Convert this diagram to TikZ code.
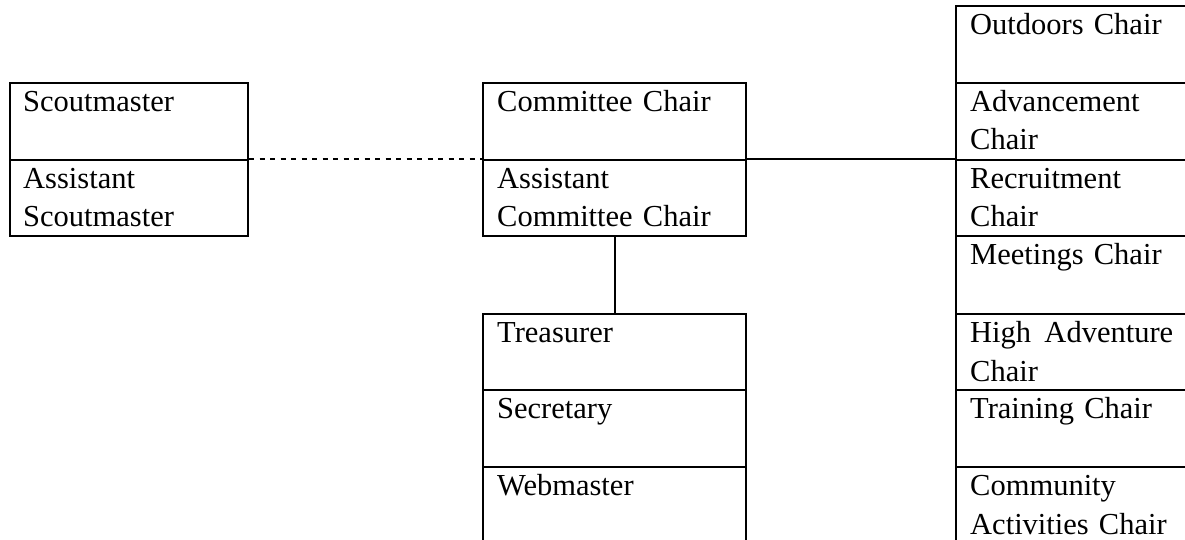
\documentclass[tikz,border=0pt]{standalone}
\usepackage{fontspec}
\setmainfont{Liberation Serif}
\begin{document}
\begin{tikzpicture}[x=1pt,y=-1pt,
  cell/.style={draw, line width=2.2pt, rectangle, anchor=north west, inner sep=0pt},
  txt/.style={anchor=base west, inner sep=0pt, align=left, text width=228pt,
    font=\fontsize{30.5}{38.5}\selectfont},
  conn/.style={line width=2.2pt},
  dotconn/.style={line width=1.8pt, dash pattern=on 5pt off 5.5pt}]
\useasboundingbox (0,0) rectangle (1185,540);
\clip (0,0) rectangle (1185,540);
% left column
\node[cell, minimum width=238pt, minimum height=77pt] (sm) at (9,82) {};
\node[cell, minimum width=238pt, minimum height=76pt] (asm) at (9,159) {};
% middle column
\node[cell, minimum width=263pt, minimum height=77pt] (cc) at (482,82) {};
\node[cell, minimum width=263pt, minimum height=76pt] (acc) at (482,159) {};
\node[cell, minimum width=263pt, minimum height=76pt] (tre) at (482,313) {};
\node[cell, minimum width=263pt, minimum height=77pt] (sec) at (482,389) {};
\node[cell, minimum width=263pt, minimum height=80pt] (web) at (482,466) {};
% right column
\node[cell, minimum width=240pt, minimum height=77pt] (out) at (955,5) {};
\node[cell, minimum width=240pt, minimum height=77pt] (adv) at (955,82) {};
\node[cell, minimum width=240pt, minimum height=76pt] (rec) at (955,159) {};
\node[cell, minimum width=240pt, minimum height=78pt] (mee) at (955,235) {};
\node[cell, minimum width=240pt, minimum height=76pt] (hig) at (955,313) {};
\node[cell, minimum width=240pt, minimum height=77pt] (tra) at (955,389) {};
\node[cell, minimum width=240pt, minimum height=80pt] (com) at (955,466) {};
% texts
\node[txt] (sm-t) at ([xshift=14pt,yshift=-29.5pt]sm.north west) {Scoutmaster};
\node[txt] (asm-t) at ([xshift=14pt,yshift=-29.5pt]asm.north west) {Assistant\\Scoutmaster};
\node[txt] (cc-t) at ([xshift=15pt,yshift=-29.5pt]cc.north west) {Committee Chair};
\node[txt] (acc-t) at ([xshift=15pt,yshift=-29.5pt]acc.north west) {Assistant\\Committee Chair};
\node[txt] (tre-t) at ([xshift=15pt,yshift=-29.5pt]tre.north west) {Treasurer};
\node[txt] (sec-t) at ([xshift=15pt,yshift=-29.5pt]sec.north west) {Secretary};
\node[txt] (web-t) at ([xshift=15pt,yshift=-29.5pt]web.north west) {Webmaster};
\node[txt] (out-t) at ([xshift=15pt,yshift=-29.5pt]out.north west) {Outdoors Chair};
\node[txt] (adv-t) at ([xshift=15pt,yshift=-29.5pt]adv.north west) {Advancement\\Chair};
\node[txt] (rec-t) at ([xshift=15pt,yshift=-29.5pt]rec.north west) {Recruitment\\Chair};
\node[txt] (mee-t) at ([xshift=15pt,yshift=-29.5pt]mee.north west) {Meetings Chair};
\node[txt, text width=203pt] (hig-t) at ([xshift=15pt,yshift=-29.5pt]hig.north west) {High\hfill Adventure\\Chair};
\node[txt] (tra-t) at ([xshift=15pt,yshift=-29.5pt]tra.north west) {Training Chair};
\node[txt] (com-t) at ([xshift=15pt,yshift=-29.5pt]com.north west) {Community\\Activities Chair};
% connectors
\draw[dotconn] (asm.north east) -- (acc.north west);
\draw[conn] (acc.north east) -- (rec.north west);
\draw[conn] (acc.south) -- (tre.north);
\end{tikzpicture}
\end{document}
